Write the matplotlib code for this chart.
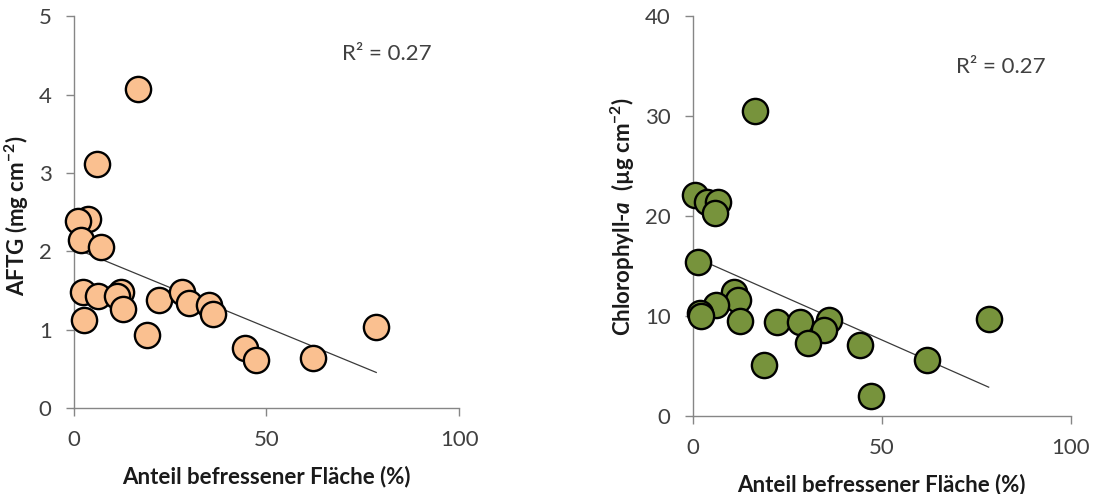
import numpy as np
import matplotlib.pyplot as plt

plt.rcParams['font.family'] = ['Lato', 'DejaVu Sans']
plt.rcParams['mathtext.fontset'] = 'custom'
plt.rcParams['mathtext.rm'] = 'Lato:bold'
plt.rcParams['mathtext.it'] = 'Lato:bold:italic'
plt.rcParams['mathtext.bf'] = 'Lato:bold'

# grazed area share (%) and AFDM per site
aftg_x = [16.7, 6.0, 3.6, 1.0, 1.7, 6.9, 2.4, 6.3, 12.2, 11.1, 12.8,
          2.6, 22.2, 19.0, 28.0, 29.8, 35.0, 36.0, 44.4, 47.4, 62.1, 78.5]
aftg_y = [4.07, 3.12, 2.41, 2.39, 2.15, 2.06, 1.48, 1.43, 1.48, 1.43, 1.26,
          1.13, 1.38, 0.93, 1.48, 1.34, 1.31, 1.20, 0.77, 0.61, 0.64, 1.04]

# grazed area share (%) and chlorophyll-a per site
chl_x = [16.6, 0.6, 3.7, 6.8, 5.9, 1.5, 11.0, 12.1, 6.2, 1.9, 2.2,
         12.5, 22.3, 28.5, 36.0, 34.6, 30.5, 44.2, 18.9, 47.2, 62.1, 78.3]
chl_y = [30.5, 22.1, 21.4, 21.4, 20.3, 15.4, 12.4, 11.6, 11.1, 10.3, 10.0,
         9.5, 9.4, 9.4, 9.6, 8.6, 7.3, 7.1, 5.1, 2.0, 5.6, 9.7]

r2_text = ['R² = 0.27', 'R² = 0.27']
x_label = 'Anteil befressener Fläche (%)'

grey = '#868686'
txt = '#404040'

fig = plt.figure(figsize=(10.94, 4.94), dpi=100)
ax1 = fig.add_axes([0.0676, 0.174, 0.352, 0.793])
ax2 = fig.add_axes([0.6332, 0.1585, 0.3455, 0.8095])


def style(ax, ymax, ystep):
    ax.set_xlim(0, 100)
    ax.set_ylim(0, ymax)
    ax.set_xticks([0, 50, 100])
    ax.set_yticks(np.arange(0, ymax + ystep / 2, ystep))
    for s in ['top', 'right']:
        ax.spines[s].set_visible(False)
    for s in ['left', 'bottom']:
        ax.spines[s].set_color(grey)
        ax.spines[s].set_linewidth(1.0)
    ax.tick_params(direction='out', length=6, width=1, color=grey,
                   labelsize=16, labelcolor=txt, pad=10)
    ax.set_xlabel(x_label, fontsize=16, fontweight='bold', color='#1a1a1a', labelpad=11)


def panel(ax, x, y, color, r2, r2_pos):
    x = np.array(x)
    y = np.array(y)
    k, d = np.polyfit(x, y, 1)
    xs = np.array([x.min(), x.max()])
    ax.plot(xs, k * xs + d, color='#3a3a3a', lw=0.9, zorder=2)
    ax.scatter(x, y, s=330, c=color, edgecolors='black', linewidths=1.7, zorder=3,
               clip_on=False)
    ax.text(r2_pos[0], r2_pos[1], r2, fontsize=16, color=txt, ha='center', va='center')


style(ax1, 5, 1)
panel(ax1, aftg_x, aftg_y, '#FAC090', r2_text[0], (81.2, 4.52))
ax1.set_ylabel('AFTG (mg cm$^{-2}$)', fontsize=16, fontweight='bold', color='#1a1a1a')
ax1.yaxis.set_label_coords(-0.112, 0.49)

style(ax2, 40, 10)
panel(ax2, chl_x, chl_y, '#77933C', r2_text[1], (81.5, 34.9))
ax2.set_ylabel('Chlorophyll-$a$  (µg cm$^{-2}$)', fontsize=16, fontweight='bold',
               color='#1a1a1a')
ax2.yaxis.set_label_coords(-0.148, 0.497)

fig.savefig('out.png', dpi=100)
